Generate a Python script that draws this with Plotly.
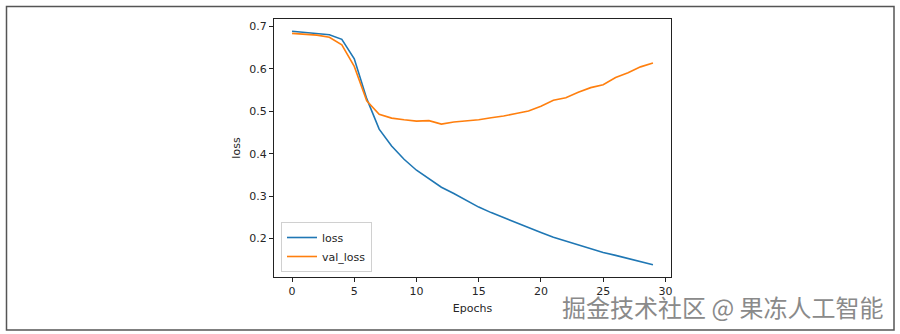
import plotly.graph_objects as go

epochs = list(range(30))
loss = [0.689, 0.686, 0.684, 0.681, 0.670, 0.624, 0.530, 0.458, 0.418, 0.387,
        0.361, 0.341, 0.321, 0.306, 0.290, 0.274, 0.261, 0.249, 0.237, 0.225,
        0.214, 0.203, 0.194, 0.184, 0.175, 0.167, 0.160, 0.153, 0.145, 0.138]
val_loss = [0.684, 0.682, 0.680, 0.675, 0.657, 0.606, 0.525, 0.493, 0.484, 0.480,
            0.477, 0.478, 0.470, 0.475, 0.477, 0.480, 0.485, 0.489, 0.495, 0.501,
            0.512, 0.526, 0.532, 0.545, 0.556, 0.563, 0.580, 0.591, 0.605, 0.614]
x_ticks = [0, 5, 10, 15, 20, 25, 30]
y_ticks = [0.2, 0.3, 0.4, 0.5, 0.6, 0.7]
watermark = "掘金技术社区 @ 果冻人工智能"

font_main = "DejaVu Sans, Liberation Sans, sans-serif"

fig = go.Figure()
fig.add_trace(go.Scatter(x=epochs, y=loss, mode="lines", name="loss",
                         line=dict(color="#1f77b4", width=1.6)))
fig.add_trace(go.Scatter(x=epochs, y=val_loss, mode="lines", name="val_loss",
                         line=dict(color="#ff7f0e", width=1.6)))

L, R, T, B = 274, 671, 19, 277
W, H = 900, 334
pw, ph = R - L, B - T

def px(xp):
    return (xp - L) / pw

def py(yp):
    return (B - yp) / ph

fig.update_layout(
    width=W, height=H,
    margin=dict(l=L, r=W - R, t=T, b=H - B),
    paper_bgcolor="white", plot_bgcolor="white",
    font=dict(family=font_main, size=11, color="#262626"),
    showlegend=True,
    legend=dict(x=px(281), y=py(272), xanchor="left", yanchor="bottom",
                bgcolor="rgba(255,255,255,0.9)", bordercolor="#d0d0d0", borderwidth=1,
                font=dict(size=11, color="#262626"), itemwidth=30,
                tracegroupgap=0),
    xaxis=dict(range=[-1.45, 30.45], tickvals=x_ticks, showgrid=False, zeroline=False,
               showline=True, linecolor="#222", linewidth=1, mirror=True,
               ticks="outside", ticklen=4, tickcolor="#222",
               title=dict(text="Epochs", standoff=7, font=dict(size=11))),
    yaxis=dict(range=[0.109, 0.718], tickvals=y_ticks, tickformat=".1f",
               showgrid=False, zeroline=False,
               showline=True, linecolor="#222", linewidth=1, mirror=True,
               ticks="outside", ticklen=4, tickcolor="#222",
               title=dict(text="loss", standoff=6, font=dict(size=11))),
    shapes=[dict(type="rect", xref="paper", yref="paper",
                 x0=px(6.5), x1=px(894), y0=py(330), y1=py(6.5),
                 line=dict(color="#555", width=1.5), fillcolor="rgba(0,0,0,0)",
                 layer="below")],
    annotations=[dict(text=watermark, xref="paper", yref="paper",
                      x=px(885), y=py(306), xanchor="right", yanchor="middle",
                      showarrow=False,
                      font=dict(family="Noto Sans CJK SC", size=24, color="#8a8a8a"))],
)

fig.write_html("out.html")
